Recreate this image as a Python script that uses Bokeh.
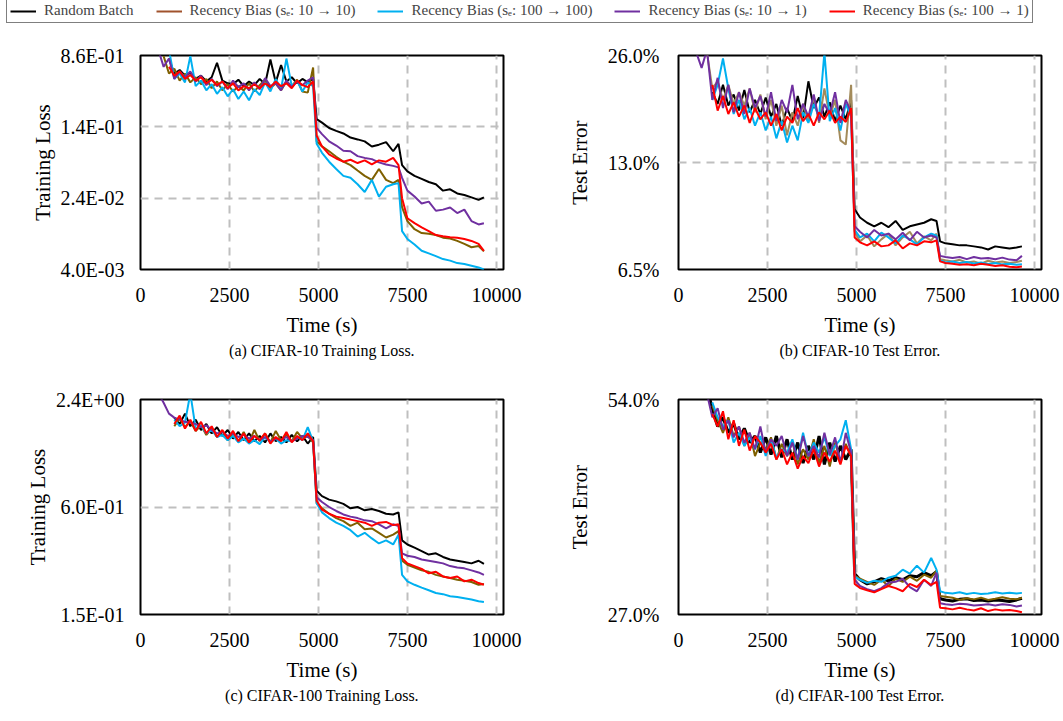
import numpy as np
from bokeh.plotting import figure
from bokeh.layouts import column, row
from bokeh.models import Range1d, FixedTicker, CustomJSTickFormatter, Legend, LegendItem, ColumnDataSource
from bokeh.embed import file_html
from bokeh.resources import INLINE

N = None

# ---------------- data ----------------
TIME = [500, 650, 800, 950, 1100, 1250, 1400, 1550, 1700, 1850, 2000, 2150, 2300, 2450, 2600,
        2750, 2900, 3050, 3200, 3350, 3500, 3650, 3800, 3950, 4100, 4250, 4400, 4550, 4700, 4850,
        4950, 5100, 5300, 5500, 5700, 5900, 6100, 6300, 6500, 6700, 6900, 7100, 7250, 7350,
        7500, 7700, 7900, 8100, 8300, 8500, 8700, 8900, 9100, 9300, 9500, 9650]

SERIES_NAMES = ["Random Batch",
                "Recency Bias (s\u2091: 10 \u2192 10)",
                "Recency Bias (s\u2091: 100 \u2192 100)",
                "Recency Bias (s\u2091: 10 \u2192 1)",
                "Recency Bias (s\u2091: 100 \u2192 1)"]

X_TICKS = [0, 2500, 5000, 7500, 10000]
X_GRID = [2500, 5000, 7500, 10000]

# (a) CIFAR-10 training loss
a_random = [N, N, 0.80, 0.55, 0.60, 0.52, 0.56, 0.48, 0.52, 0.45, 0.50, 0.72, 0.46, 0.43, 0.42,
            0.47, 0.40, 0.45, 0.41, 0.48, 0.42, 0.78, 0.44, 0.68, 0.45, 0.50, 0.43, 0.48, 0.44, 0.48,
            0.175, 0.16, 0.14, 0.13, 0.122, 0.11, 0.105, 0.100, 0.088, 0.092, 0.098, 0.078, 0.094,
            0.055, 0.047, 0.042, 0.039, 0.036, 0.034, 0.029, 0.030, 0.027, 0.026, 0.0245, 0.023, 0.0245]
a_rb_10_10 = [N, 0.85, 0.55, 0.62, 0.46, 0.55, 0.44, 0.50, 0.42, 0.48, 0.38, 0.45, 0.36, 0.42, 0.35,
              0.40, 0.36, 0.43, 0.35, 0.41, 0.47, 0.38, 0.43, 0.36, 0.45, 0.40, 0.47, 0.35, 0.34, 0.64,
              0.10, 0.088, 0.078, 0.068, 0.060, 0.055, 0.048, 0.042, 0.038, 0.050, 0.038, 0.035, 0.038,
              0.019, 0.0135, 0.011, 0.010, 0.0098, 0.0095, 0.0089, 0.0087, 0.0082, 0.0076, 0.0070, 0.0072, 0.0063]
a_rb_100_100 = [N, N, 1.0, 0.48, 0.55, 0.44, 0.85, 0.40, 0.46, 0.36, 0.42, 0.33, 0.39, 0.31, 0.37,
                0.29, 0.35, 0.28, 0.37, 0.32, 0.44, 0.35, 0.48, 0.37, 0.80, 0.40, 0.46, 0.35, 0.44, 0.40,
                0.094, 0.075, 0.060, 0.050, 0.042, 0.040, 0.034, 0.028, 0.038, 0.025, 0.032, 0.034, 0.035,
                0.0105, 0.0086, 0.0075, 0.0064, 0.0060, 0.0056, 0.0052, 0.0050, 0.0047, 0.0046, 0.0044, 0.0042, 0.0040]
a_rb_10_1 = [1.0, 0.65, 0.80, 0.48, 0.58, 0.50, 0.58, 0.45, 0.52, 0.41, 0.48, 0.40, 0.45, 0.37, 0.46,
             0.39, 0.43, 0.36, 0.44, 0.37, 0.49, 0.40, 0.43, 0.36, 0.46, 0.39, 0.45, 0.41, 0.46, 0.50,
             0.14, 0.12, 0.10, 0.090, 0.079, 0.078, 0.069, 0.066, 0.064, 0.059, 0.056, 0.054, 0.052,
             0.040, 0.029, 0.025, 0.021, 0.022, 0.0175, 0.018, 0.019, 0.0165, 0.018, 0.0135, 0.0124, 0.0128]
a_rb_100_1 = [N, N, 0.65, 0.52, 0.58, 0.48, 0.53, 0.46, 0.50, 0.43, 0.47, 0.41, 0.45, 0.38, 0.43,
              0.36, 0.40, 0.38, 0.42, 0.38, 0.43, 0.39, 0.45, 0.40, 0.43, 0.38, 0.46, 0.41, 0.39, 0.45,
              0.115, 0.088, 0.072, 0.065, 0.060, 0.063, 0.058, 0.062, 0.056, 0.062, 0.060, 0.066, 0.055,
              0.024, 0.0145, 0.0128, 0.0115, 0.0105, 0.0095, 0.0092, 0.0090, 0.0089, 0.0086, 0.0082, 0.0076, 0.0064]

# (b) CIFAR-10 test error (%)
b_random = [N, N, N, 20.5, 19.0, 21.5, 18.8, 20.2, 18.2, 20.8, 18.0, 19.5, 17.8, 19.8, 17.5,
            19.0, 16.5, 18.5, 17.0, 20.0, 17.3, 22.0, 18.5, 19.8, 17.5, 19.2, 17.0, 18.8, 17.2, 19.5,
            9.6, 9.1, 8.8, 8.6, 8.8, 8.55, 8.9, 8.4, 8.6, 8.7, 8.8, 9.0, 8.9,
            7.8, 7.7, 7.65, 7.6, 7.6, 7.55, 7.5, 7.4, 7.55, 7.5, 7.45, 7.5, 7.55]
b_rb_10_10 = [N, N, 26.5, 21.0, 22.0, 19.5, 21.5, 19.0, 20.5, 18.8, 21.0, 18.0, 20.2, 17.2, 19.5,
              16.5, 18.8, 15.5, 18.0, 16.5, 19.0, 17.0, 20.0, 16.8, 21.0, 17.5, 19.5, 15.0, 14.6, 21.5,
              8.3, 7.8, 8.1, 7.55, 7.9, 8.2, 7.6, 8.0, 8.3, 7.7, 8.05, 7.85, 8.2,
              6.95, 6.9, 6.85, 6.92, 6.8, 6.85, 6.75, 6.88, 6.8, 6.85, 6.78, 6.82, 6.88]
b_rb_100_100 = [N, N, N, 19.5, 21.5, 25.5, 21.0, 17.8, 19.5, 17.2, 18.5, 16.5, 18.0, 16.0, 17.5,
                15.2, 17.0, 14.8, 16.5, 15.0, 18.0, 16.8, 19.0, 17.5, 26.5, 17.0, 18.5, 16.0, 19.0, 17.5,
                8.4, 8.0, 8.2, 7.8, 8.25, 8.0, 7.7, 8.1, 7.9, 7.65, 8.0, 8.2, 8.1,
                6.9, 6.8, 6.85, 6.78, 6.82, 6.76, 6.8, 6.74, 6.78, 6.72, 6.75, 6.7, 6.72]
b_rb_10_1 = [26.5, 24.0, 27.0, 19.5, 22.5, 18.5, 21.5, 18.0, 20.5, 17.8, 21.0, 18.5, 20.0, 17.5, 20.5,
             17.0, 19.5, 18.0, 21.5, 17.2, 19.0, 17.5, 20.2, 17.0, 19.0, 17.8, 20.5, 16.8, 19.5, 18.0,
             8.6, 8.3, 8.0, 8.4, 8.1, 8.2, 7.9, 8.25, 7.85, 8.3, 8.0, 8.1, 8.0,
             7.1, 7.05, 7.0, 7.05, 6.95, 7.05, 6.98, 7.0, 6.95, 7.02, 6.93, 6.9, 7.1]
b_rb_100_1 = [N, N, N, 21.5, 18.2, 20.0, 17.8, 19.2, 17.5, 18.8, 16.8, 18.5, 17.2, 18.0, 16.5,
              17.8, 16.0, 17.5, 16.8, 18.5, 17.0, 17.8, 16.5, 18.0, 17.2, 18.2, 16.8, 17.5, 16.9, 18.5,
              8.0, 7.75, 7.6, 7.8, 7.55, 7.6, 7.85, 7.45, 7.7, 7.6, 7.8, 7.75, 7.85,
              6.85, 6.78, 6.75, 6.7, 6.72, 6.68, 6.75, 6.7, 6.65, 6.68, 6.62, 6.6, 6.63]

# (c) CIFAR-100 training loss
c_random = [N, N, N, 1.90, 1.75, 2.00, 1.70, 1.85, 1.62, 1.75, 1.55, 1.68, 1.50, 1.62, 1.45,
            1.58, 1.42, 1.55, 1.40, 1.50, 1.38, 1.55, 1.40, 1.48, 1.38, 1.52, 1.40, 1.50, 1.36, 1.48,
            0.74, 0.69, 0.66, 0.645, 0.625, 0.59, 0.60, 0.575, 0.585, 0.57, 0.55, 0.545, 0.56,
            0.39, 0.37, 0.355, 0.34, 0.325, 0.33, 0.315, 0.305, 0.30, 0.295, 0.29, 0.30, 0.288]
c_rb_10_10 = [N, N, N, 1.70, 1.88, 1.68, 1.82, 1.60, 1.72, 1.52, 1.65, 1.48, 1.60, 1.42, 1.55,
              1.40, 1.58, 1.38, 1.62, 1.40, 1.55, 1.38, 1.60, 1.42, 1.52, 1.40, 1.58, 1.45, 1.50, 1.38,
              0.63, 0.59, 0.55, 0.52, 0.50, 0.47, 0.49, 0.45, 0.455, 0.43, 0.405, 0.42, 0.44,
              0.30, 0.285, 0.275, 0.265, 0.26, 0.25, 0.245, 0.24, 0.235, 0.232, 0.228, 0.22, 0.222]
c_rb_100_100 = [N, N, N, 1.85, 1.70, 1.78, 2.60, 1.65, 1.72, 1.55, 1.62, 1.48, 1.52, 1.42, 1.50,
                1.38, 1.45, 1.36, 1.42, 1.35, 1.48, 1.38, 1.45, 1.36, 1.42, 1.40, 1.48, 1.42, 1.68, 1.40,
                0.63, 0.56, 0.52, 0.49, 0.47, 0.445, 0.41, 0.43, 0.40, 0.375, 0.39, 0.37, 0.42,
                0.25, 0.23, 0.22, 0.212, 0.205, 0.198, 0.195, 0.19, 0.188, 0.185, 0.182, 0.178, 0.176]
c_rb_10_1 = [2.60, 2.30, 2.00, 1.90, 1.85, 1.80, 1.78, 1.75, 1.68, 1.72, 1.62, 1.55, 1.58, 1.50, 1.55,
             1.48, 1.52, 1.45, 1.50, 1.42, 1.48, 1.40, 1.45, 1.42, 1.48, 1.40, 1.45, 1.50, 1.48, 1.42,
             0.68, 0.64, 0.60, 0.57, 0.545, 0.53, 0.52, 0.505, 0.50, 0.48, 0.455, 0.48, 0.47,
             0.33, 0.32, 0.315, 0.305, 0.30, 0.295, 0.29, 0.28, 0.275, 0.272, 0.265, 0.258, 0.25]
c_rb_100_1 = [N, N, N, 1.75, 1.95, 1.65, 1.85, 1.60, 1.80, 1.55, 1.70, 1.48, 1.62, 1.45, 1.60,
              1.40, 1.55, 1.38, 1.50, 1.42, 1.55, 1.36, 1.48, 1.40, 1.58, 1.38, 1.50, 1.42, 1.55, 1.40,
              0.65, 0.58, 0.55, 0.53, 0.52, 0.51, 0.50, 0.49, 0.47, 0.49, 0.495, 0.475, 0.48,
              0.31, 0.29, 0.28, 0.27, 0.255, 0.26, 0.245, 0.24, 0.245, 0.23, 0.235, 0.225, 0.22]

# (d) CIFAR-100 test error (%)
d_random = [N, N, 56.0, 52.5, 49.5, 51.0, 48.5, 50.0, 47.5, 49.2, 47.0, 48.0, 45.5, 47.8, 45.2,
            48.0, 44.8, 47.5, 44.5, 47.0, 44.0, 46.5, 44.5, 48.0, 43.8, 47.0, 44.2, 46.5, 44.5, 46.0,
            30.8, 30.2, 29.8, 30.0, 30.3, 30.1, 30.4, 30.2, 30.6, 30.5, 30.9, 30.6, 31.0,
            28.4, 28.3, 28.2, 28.35, 28.4, 28.25, 28.3, 28.2, 28.3, 28.25, 28.15, 28.3, 28.45]
d_rb_10_10 = [N, N, N, 53.0, 50.5, 48.5, 51.0, 48.0, 49.5, 46.5, 48.5, 45.0, 47.0, 46.0, 47.8,
              44.5, 46.8, 45.0, 47.2, 43.8, 46.0, 44.5, 47.5, 44.0, 46.5, 43.5, 47.0, 44.2, 46.8, 45.0,
              30.6, 30.3, 30.0, 29.7, 30.2, 29.6, 30.3, 30.0, 30.5, 30.1, 30.7, 30.4, 31.1,
              28.65, 28.6, 28.5, 28.3, 28.45, 28.35, 28.5, 28.3, 28.4, 28.55, 28.4, 28.35, 28.5]
d_rb_100_100 = [N, N, N, 53.5, 51.0, 49.5, 50.5, 47.0, 48.5, 46.5, 47.8, 46.0, 48.0, 45.0, 47.5,
                44.8, 46.0, 45.5, 47.5, 44.5, 48.5, 45.0, 47.0, 45.5, 47.8, 45.0, 46.5, 47.5, 50.5, 46.0,
                30.5, 30.2, 29.9, 30.1, 30.0, 30.4, 30.6, 31.2, 30.8, 31.6, 30.9, 32.4, 31.2,
                29.1, 28.95, 28.9, 29.0, 28.85, 28.95, 28.85, 28.9, 29.0, 28.9, 28.95, 28.9, 28.95]
d_rb_10_1 = [N, N, 55.0, 51.0, 52.5, 49.0, 50.5, 47.8, 49.5, 47.0, 48.5, 46.0, 49.5, 45.5, 47.5,
             46.5, 48.0, 45.0, 47.0, 44.5, 48.0, 45.0, 46.5, 44.8, 48.5, 45.2, 47.8, 44.0, 48.5, 45.5,
             30.2, 29.6, 29.3, 29.1, 29.4, 29.9, 30.0, 30.3, 29.5, 29.1, 30.2, 29.6, 30.9,
             28.0, 27.9, 27.85, 27.95, 27.9, 27.8, 27.85, 27.9, 27.8, 27.9, 27.85, 27.7, 27.8]
d_rb_100_1 = [N, N, N, 51.5, 49.5, 52.0, 47.5, 50.5, 46.5, 49.0, 45.8, 48.0, 47.0, 45.5, 46.8,
              44.5, 46.0, 43.8, 45.5, 43.2, 45.0, 44.0, 46.0, 43.5, 45.5, 44.2, 45.8, 43.8, 46.5, 45.0,
              29.8, 29.4, 29.2, 29.0, 29.3, 29.6, 29.4, 29.1, 29.8, 29.5, 30.2, 29.7, 30.0,
              27.6, 27.55, 27.45, 27.6, 27.45, 27.35, 27.55, 27.3, 27.45, 27.35, 27.4, 27.3, 27.2]

# y-axis tick values and labels
A_TICKS = [0.004, 0.024, 0.144, 0.864]
A_LABELS = ["4.0E-03", "2.4E-02", "1.4E-01", "8.6E-01"]
B_TICKS = [6.5, 13.0, 26.0]
B_LABELS = ["6.5%", "13.0%", "26.0%"]
C_TICKS = [0.15, 0.6, 2.4]
C_LABELS = ["1.5E-01", "6.0E-01", "2.4E+00"]
D_TICKS = [27.0, 54.0]
D_LABELS = ["27.0%", "54.0%"]

# ---------------- style ----------------
FONT = "Liberation Serif"
BLACK, BROWN, CYAN, PURPLE, RED = "#000000", "#7F6000", "#00B0F0", "#7030A0", "#FF0000"
LEGEND_COLORS = ["#000000", "#A0522D", "#00B0F0", "#7030A0", "#FF0000"]
GRID_COLOR = "#BFBFBF"


def make_panel(series, colors, widths, ticks, labels, grid, ytitle, caption,
               left, right, top, fh, bottom, ylab_stand, ytitle_stand):
    p = figure(y_axis_type="log", x_range=Range1d(0, 10200),
               y_range=Range1d(ticks[0], ticks[-1]),
               frame_width=363, frame_height=fh,
               min_border_left=left, min_border_right=right,
               min_border_top=top, min_border_bottom=bottom,
               output_backend="svg", toolbar_location=None,
               title=caption, title_location="below")
    p.background_fill_color = "white"
    p.border_fill_color = "white"
    p.outline_line_color = "black"
    p.outline_line_width = 2

    t = np.array(TIME, dtype=float)
    for vals, col, w in zip(series, colors, widths):
        src = ColumnDataSource(dict(t=t, v=np.array(vals, dtype=float)))
        p.line("t", "v", source=src, line_color=col, line_width=w)

    xa = p.xaxis[0]
    xa.ticker = FixedTicker(ticks=X_TICKS)
    xa.axis_label = "Time (s)"
    ya = p.yaxis[0]
    ya.ticker = FixedTicker(ticks=ticks)
    ya.formatter = CustomJSTickFormatter(args=dict(tv=ticks, tl=labels), code="""
        for (let i = 0; i < tv.length; i++) {
            if (Math.abs(tick - tv[i]) <= 1e-6 * tv[i]) return tl[i];
        }
        return "";
    """)
    ya.axis_label = ytitle
    for ax in (xa, ya):
        ax.axis_line_color = None
        ax.major_tick_line_color = None
        ax.minor_tick_line_color = None
        ax.major_label_text_font = FONT
        ax.major_label_text_font_size = "20px"
        ax.major_label_text_color = "black"
        ax.axis_label_text_font = FONT
        ax.axis_label_text_font_size = "21px"
        ax.axis_label_text_font_style = "normal"
        ax.axis_label_text_color = "black"
    xa.major_label_standoff = 12
    xa.axis_label_standoff = 8
    ya.major_label_standoff = ylab_stand
    ya.axis_label_standoff = ytitle_stand

    p.xgrid.ticker = FixedTicker(ticks=X_GRID)
    p.xgrid.grid_line_color = GRID_COLOR
    p.xgrid.grid_line_width = 2
    p.xgrid.grid_line_dash = "8 6"
    if grid:
        p.ygrid.ticker = FixedTicker(ticks=grid)
        p.ygrid.grid_line_color = GRID_COLOR
        p.ygrid.grid_line_width = 2
        p.ygrid.grid_line_dash = "8 6"
    else:
        p.ygrid.visible = False

    p.title.align = "center"
    p.title.text_font = FONT
    p.title.text_font_size = "16px"
    p.title.text_font_style = "normal"
    p.title.text_color = "black"
    p.title.standoff = 0
    p.title.offset = 0
    return p


order_colors = [BLACK, BROWN, CYAN, PURPLE, RED]
fa = make_panel([a_random, a_rb_10_10, a_rb_100_100, a_rb_10_1, a_rb_100_1],
                order_colors, [2, 2, 2, 2, 2], A_TICKS, A_LABELS, A_TICKS[1:3],
                "Training Loss", "(a) CIFAR-10 Training Loss.", 140, 28, 31, 214, 101, 10, 3)
fb = make_panel([b_random, b_rb_10_10, b_rb_100_100, b_rb_10_1, b_rb_100_1],
                [BLACK, "#A38B5B", CYAN, PURPLE, RED], [2, 2, 2, 2, 2], B_TICKS, B_LABELS, B_TICKS[1:2],
                "Test Error", "(b) CIFAR-10 Test Error.", 147, 22, 31, 214, 101, 13, 13)
fc = make_panel([c_random, c_rb_10_10, c_rb_100_100, c_rb_10_1, c_rb_100_1],
                order_colors, [2, 2, 2, 2, 2], C_TICKS, C_LABELS, C_TICKS[1:2],
                "Training Loss", "(c) CIFAR-100 Training Loss.", 140, 28, 29, 215, 107, 10, 3)
fd = make_panel([d_random, d_rb_10_10, d_rb_100_100, d_rb_10_1, d_rb_100_1],
                order_colors, [3, 2, 2, 2, 2], D_TICKS, D_LABELS, [],
                "Test Error", "(d) CIFAR-100 Test Error.", 147, 22, 29, 215, 107, 13, 13)

# ---------------- legend strip ----------------
lf = figure(width=1063, height=24, x_range=Range1d(0, 1), y_range=Range1d(0, 1),
            x_axis_location=None, y_axis_location=None, min_border=0,
            output_backend="svg", toolbar_location=None)
lf.outline_line_color = None
lf.grid.visible = False
items = []
for name, col in zip(SERIES_NAMES, LEGEND_COLORS):
    r = lf.line(x=[np.nan], y=[np.nan], line_color=col, line_width=2)
    items.append(LegendItem(label=name, renderers=[r]))
leg = Legend(items=items, orientation="horizontal", location=(6, 1),
             border_line_color="black", border_line_width=1, margin=0, padding=3,
             glyph_width=26, glyph_height=16, label_standoff=8, spacing=22,
             label_text_font=FONT, label_text_font_size="15px", label_height=16,
             background_fill_color="white", background_fill_alpha=1)
lf.add_layout(leg, "center")

layout = column(lf, row(fa, fb), row(fc, fd))

with open("out.html", "w") as f:
    f.write(file_html(layout, INLINE))
